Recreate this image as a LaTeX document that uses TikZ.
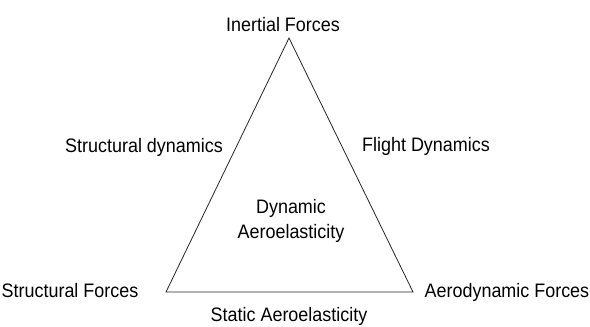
\documentclass[tikz,border=0pt]{standalone}
\usepackage{fontspec}
\setsansfont[FakeStretch=0.92]{Liberation Sans}
\usepackage{tikz}

\begin{document}
\begin{tikzpicture}[font=\sffamily\fontsize{19.5}{25}\selectfont, x=1pt, y=-1pt]
    \tikzstyle{force}=[inner sep=0pt, anchor=base]
    \tikzstyle{field}=[inner sep=0pt, anchor=base, align=center]
    \useasboundingbox (0,0) rectangle (590,327);

    % Triangle
    \coordinate (top) at (289,38);
    \coordinate (left) at (166,292);
    \coordinate (right) at (413,292);
    \draw[line width=0.8pt, black!85] (top) -- (left) -- (right) -- cycle;

    % Forces at the corners
    \node[force] (inertial) at (283,31) {Inertial Forces};
    \node[force, anchor=base east] (structural) at (138.5,297.5) {Structural Forces};
    \node[force, anchor=base west] (aerodynamic) at (424.5,297.5) {Aerodynamic Forces};

    % Fields along the sides
    \node[field] (strucdyn) at (144,152) {Structural dynamics};
    \node[field] (flightdyn) at (426,151) {Flight Dynamics};
    \node[field] (static) at (289,321.5) {Static Aeroelasticity};
    \node[field, anchor=center] (dynamic) at (291,221) {Dynamic\\Aeroelasticity};
\end{tikzpicture}
\end{document}
